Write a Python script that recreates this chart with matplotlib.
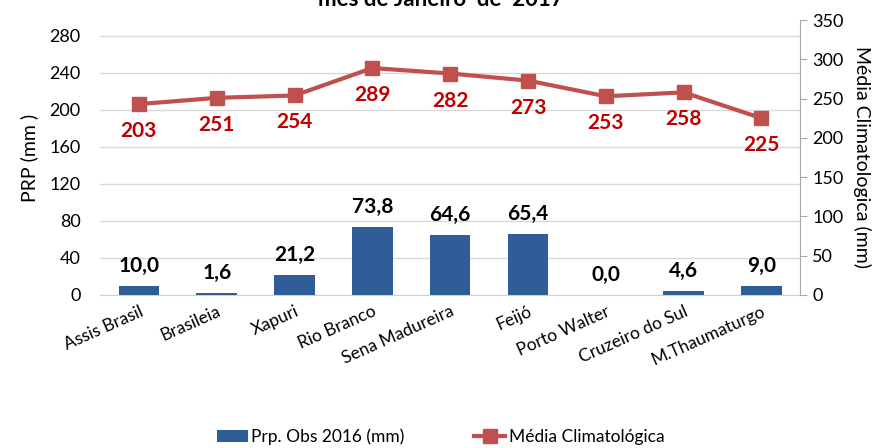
import matplotlib
matplotlib.use('Agg')
import matplotlib.pyplot as plt
import numpy as np

plt.rcParams['font.family'] = ['Lato', 'DejaVu Sans']

# dados
estacoes = ['Assis Brasil', 'Brasileia', 'Xapuri', 'Rio Branco', 'Sena Madureira',
            'Feijó', 'Porto Walter', 'Cruzeiro do Sul', 'M.Thaumaturgo']
prp_obs = [10.0, 1.6, 21.2, 73.8, 64.6, 65.4, 0.0, 4.6, 9.0]
media_clim = [243, 251, 254, 289, 282, 273, 253, 258, 225]
media_rotulos = ['203', '251', '254', '289', '282', '273', '253', '258', '225']

azul = '#2E5D98'
vermelho = '#C0504D'

fig = plt.figure(figsize=(8.81, 4.48), dpi=100)
ax = fig.add_axes([0.1135, 0.342, 0.795, 0.613])
x = np.arange(len(estacoes))

b = ax.bar(x, prp_obs, width=0.52, color=azul, zorder=3, label='Prp. Obs 2016 (mm)')
for xi, v in zip(x, prp_obs):
    ax.annotate(('%.1f' % v).replace('.', ','), (xi, v), xytext=(0, 10),
                textcoords='offset pixels', ha='center', va='bottom',
                fontsize=15, fontweight='bold', color='black')

ax.set_xlim(-0.5, len(estacoes) - 0.5)
ax.set_ylim(0, 297)
ax.set_yticks(range(0, 281, 40))
ax.yaxis.grid(True, color='#D9D9D9', linewidth=1, zorder=0)
ax.tick_params(axis='y', length=0, labelsize=13, pad=14)
ax.tick_params(axis='x', length=0, labelsize=12.5, pad=6)
ax.set_xticks(x)
ax.set_xticklabels(estacoes, rotation=24, ha='right', rotation_mode='anchor')
for s in ['top', 'right', 'left']:
    ax.spines[s].set_visible(False)
ax.spines['bottom'].set_color('#C5D3E6')
ax.set_ylabel('PRP (mm )', fontsize=14, labelpad=8)

ax2 = ax.twinx()
l, = ax2.plot(x, media_clim, color=vermelho, linewidth=3, marker='s', markersize=10,
              zorder=4, label='Média Climatológica')
for xi, v, t in zip(x, media_clim, media_rotulos):
    ax2.annotate(t, (xi, v), xytext=(0, -27), textcoords='offset pixels',
                 ha='center', va='center', fontsize=15, fontweight='bold', color='#C00000')
ax2.set_ylim(0, 350)
ax2.set_yticks(range(0, 351, 50))
ax2.tick_params(axis='y', labelsize=13, color='#A6A6A6', length=5)
for s in ['top', 'left', 'bottom']:
    ax2.spines[s].set_visible(False)
ax2.spines['right'].set_color('#A6A6A6')
ax2.set_ylabel('Média Climatologica (mm)', fontsize=14, rotation=270, labelpad=20)

fig.text(0.5, 1.0, 'mes de Janeiro  de  2017', ha='center', va='center',
         fontsize=16, fontweight='bold')

fig.legend(handles=[b, l], loc='center', bbox_to_anchor=(0.5, 0.025), ncol=2,
           frameon=False, fontsize=12.5, columnspacing=4, handlelength=1.8,
           handletextpad=0.2)

fig.savefig('out.png', dpi=100)
